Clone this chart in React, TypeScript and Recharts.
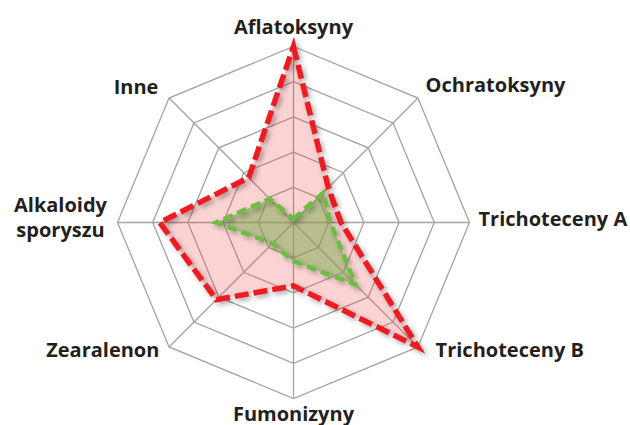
import React from 'react';
import { RadarChart, Radar, PolarGrid, PolarAngleAxis, PolarRadiusAxis } from 'recharts';

const categories = [
  'Aflatoksyny',
  'Ochratoksyny',
  'Trichoteceny A',
  'Trichoteceny B',
  'Fumonizyny',
  'Zearalenon',
  'Alkaloidy sporyszu',
  'Inne',
];
const redValues = [5.0, 1.4, 1.35, 5.0, 1.8, 3.1, 3.8, 1.8];
const greenValues = [0.1, 1.2, 1.05, 2.5, 1.1, 0.85, 2.2, 0.95];
const radiusTicks = [0, 1, 2, 3, 4, 5];

const data = categories.map((c, i) => ({ name: c, red: redValues[i], green: greenValues[i] }));

// label offsets relative to recharts' tick anchor point [dx, dy, anchor]
const labelLayout: Record<string, [number, number, string]> = {
  'Aflatoksyny': [0, -5, 'middle'],
  'Ochratoksyny': [2, 0, 'start'],
  'Trichoteceny A': [1, 3, 'start'],
  'Trichoteceny B': [12, 4, 'start'],
  'Fumonizyny': [0, 14, 'middle'],
  'Zearalenon': [-4, 4, 'end'],
  'Alkaloidy sporyszu': [-49, -11, 'middle'],
  'Inne': [-5, 2, 'end'],
};

const FONT = '"Open Sans", sans-serif';

const Tick = (props: any) => {
  const { x, y, payload } = props;
  const label: string = payload.value;
  const [dx, dy, anchor] = labelLayout[label] || [0, 0, 'middle'];
  const lines = label === 'Alkaloidy sporyszu' ? ['Alkaloidy', 'sporyszu'] : [label];
  return (
    <text
      x={x + dx}
      y={y + dy}
      textAnchor={anchor as any}
      fontFamily={FONT}
      fontWeight={700}
      fontSize={20}
      fill="#231f20"
    >
      {lines.map((l, i) => (
        <tspan key={i} x={x + dx} dy={i === 0 ? 0 : 25}>
          {l}
        </tspan>
      ))}
    </text>
  );
};

const makeShape = (stroke: string, fill: string, fillOpacity: number, dash: string, width: number) =>
  (props: any) => {
    const pts: any[] = props.points || [];
    const str = pts.map((p) => `${p.x},${p.y}`).join(' ');
    return (
      <g>
        <polygon points={str} fill={fill} fillOpacity={fillOpacity} stroke="none" />
        <polygon
          points={str}
          fill="none"
          stroke={stroke}
          strokeWidth={width}
          strokeDasharray={dash}
          strokeLinejoin="miter"
          strokeMiterlimit={10}
          filter="url(#lineShadow)"
        />
      </g>
    );
  };

export default function App() {
  return (
    <div style={{ position: 'absolute', left: 0, top: 0, width: 630, height: 425, background: '#fff' }}>
      <RadarChart width={630} height={425} data={data} cx={293.5} cy={222.5} outerRadius={176}
        margin={{ top: 0, right: 0, bottom: 0, left: 0 }}>
        <defs>
          <filter id="lineShadow" x="-20%" y="-20%" width="140%" height="140%">
            <feDropShadow dx="2.5" dy="2.5" stdDeviation="2.5" floodColor="#000" floodOpacity="0.35" />
          </filter>
        </defs>
        <PolarGrid gridType="polygon" stroke="#a3a3a3" strokeWidth={1.3} />
        <PolarAngleAxis dataKey="name" tick={<Tick />} tickLine={false} axisLine={false} />
        <PolarRadiusAxis domain={[0, 5]} ticks={radiusTicks as any} tickCount={6} tick={false} axisLine={false} />
        <Radar
          dataKey="red"
          isAnimationActive={false}
          shape={makeShape('#ec1c24', '#f04848', 0.24, '14 5', 5.5)}
        />
        <Radar
          dataKey="green"
          isAnimationActive={false}
          shape={makeShape('#6dbd45', '#7aa84a', 0.5, '10 5', 4.5)}
        />
      </RadarChart>
    </div>
  );
}
